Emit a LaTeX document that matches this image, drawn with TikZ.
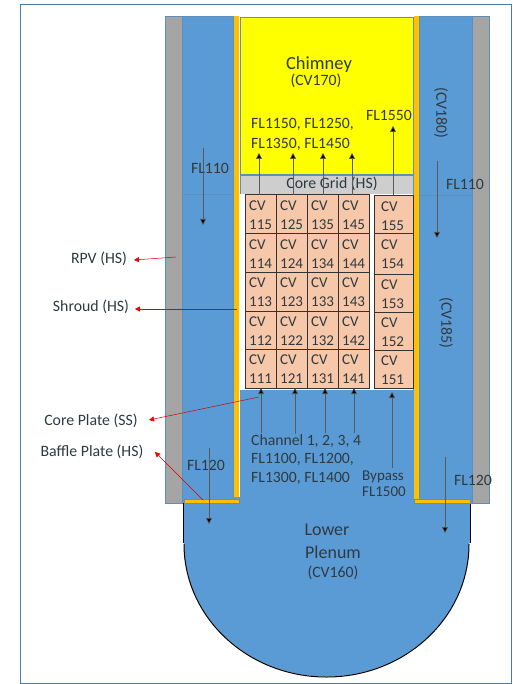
\documentclass[tikz,border=0pt]{standalone}
\usepackage{fontspec}
\setmainfont{Carlito}
\usetikzlibrary{arrows.meta}
\definecolor{bl}{HTML}{5B9BD5}
\definecolor{edgebl}{HTML}{5F8FB8}
\definecolor{gr}{HTML}{A5A5A5}
\definecolor{org}{HTML}{FFC000}
\definecolor{sal}{HTML}{F6C7A8}
\definecolor{txt}{HTML}{2F3A40}
\definecolor{chimy}{HTML}{FFFF00}
\tikzset{
 lab/.style={font=\fontsize{15.8}{18}\selectfont,text=txt,inner sep=0pt},
 cvt/.style={font=\fontsize{15}{19.5}\selectfont,text=txt,inner sep=0pt,align=left,anchor=north west},
 cell/.style={draw=black!80,line width=1pt,fill=sal,anchor=north west,inner sep=0pt,outer sep=0pt},
 flow/.style={draw=black!65,line width=.6pt,-{Triangle[length=6pt,width=6pt,fill=black]}},
 redarr/.style={draw=red!85!black,line width=.5pt,-{Triangle[length=5pt,width=5pt,fill=red]}},
 wall/.style={draw=edgebl,line width=.5pt}
}
\begin{document}
\begin{tikzpicture}[x=1pt,y=-1pt]
\useasboundingbox (0,0) rectangle (512,684);
\fill[white] (0,0) rectangle (512,684);
\draw[color=bl!80!black,line width=1pt] (20,4.5) -- (512,4.5) (20,4.5) -- (20,683);
\draw[color=bl!80!black,line width=1pt] (20,683) -- (512,683) (511,4.5) -- (511,683);
% outer walls
\fill[gr,wall] (165,16) rectangle (182,503);
\fill[gr,wall] (472,16) rectangle (489,503);
\fill[bl,wall] (182,16) rectangle (233,503);
\fill[bl,wall] (419,16) rectangle (472,503);
% lower plenum
\fill[bl] (240,380) rectangle (414,510);
\fill[bl] (183,497) -- (470,497) -- (470,543) -- (469,543) arc[start angle=0,end angle=180,x radius=142.5,y radius=133.5] -- (183,543) -- cycle;
\draw[black,line width=.9pt] (183,503) -- (183,543);
\draw[black,line width=.9pt] (470,503) -- (470,543);
\draw[black,line width=1pt] (469,544) arc[start angle=0,end angle=180,x radius=142.5,y radius=133];
% shroud and baffles
\fill[org] (233.5,16) rectangle (239,497);
\fill[org] (414,16) rectangle (419,499);
\fill[org,wall] (184,499) rectangle (239.5,503.5);
\fill[org,wall] (414,499) rectangle (470,503.5);
\draw[edgebl,line width=.5pt] (182,194) -- (233,194) (419,195) -- (472,195);
% chimney and grid
\fill[chimy,wall] (240,17) rectangle (413,174);
\fill[gr!55,wall] (240,175.5) rectangle (413,194);
\fill[white] (240,194.5) rectangle (413,390);
\fill[bl] (240,390) rectangle (412,400);
% CV cells
\foreach \c/\xa/\xb/\nn in {1/245/276/11,2/276/307/12,3/307/338/13,4/338/369/14}{
 \foreach \r/\ya/\yb/\u in {5/195/234/5,4/234/272/4,3/272/311/3,2/311/349/2,1/349/388/1}{
  \node[cell,minimum width={(\xb-\xa)*1pt},minimum height={(\yb-\ya)*1pt}] (box\c\r) at (\xa,\ya) {};
  \node[cvt] (cv\c\r) at (\xa+4,\ya+5.5) {CV\\\nn\u};
 }
}
\foreach \r/\ya/\yb/\u in {5/196/234/5,4/234/274/4,3/274/312/3,2/312/350/2,1/350/388/1}{
  \node[cell,minimum width=39pt,minimum height={(\yb-\ya)*1pt}] (box5\r) at (374,\ya) {};
  \node[cvt] (cv5\r) at (381,\ya+5.5) {CV\\15\u};
}
% text
\node[lab,font=\fontsize{18.5}{20}\selectfont] (chim) at (319,65) {Chimney};
\node[lab] (cv170) at (316,81) {(CV170)};
\node[lab,align=left,anchor=north west,font=\fontsize{15.7}{19.5}\selectfont] (flA) at (251,118.5) {FL1150, FL1250,\\FL1350, FL1450};
\node[lab,font=\fontsize{15.7}{18}\selectfont] (fl1550) at (389,115) {FL1550};
\node[lab,rotate=-90] (cv180) at (441,113) {(CV180)};
\node[lab,rotate=-90] (cv185) at (446,323) {(CV185)};
\node[lab] (core) at (332,184) {Core Grid (HS)};
\node[lab] (fl110a) at (210,168) {FL110};
\node[lab] (fl110b) at (465,184) {FL110};
\node[lab] (fl120a) at (206,465) {FL120};
\node[lab] (fl120b) at (473,480) {FL120};
\node[lab,align=left,anchor=north west,font=\fontsize{15.7}{18.5}\selectfont] (chan) at (251,434) {Channel 1, 2, 3, 4\\FL1100, FL1200,\\FL1300, FL1400};
\node[lab,align=left,anchor=north west,font=\fontsize{15}{15.5}\selectfont] (byp) at (362,471) {Bypass\\FL1500};
\node[lab,font=\fontsize{18}{20}\selectfont] (low) at (327,530) {Lower};
\node[lab,font=\fontsize{18}{20}\selectfont] (ple) at (333,552) {Plenum};
\node[lab] (cv160) at (333,573) {(CV160)};
\node[lab] (rpv) at (99,259) {RPV (HS)};
\node[lab] (shr) at (91,307) {Shroud (HS)};
\node[lab] (cp) at (91,421) {Core Plate (SS)};
\node[lab] (bp) at (92,452) {Baffle Plate (HS)};
% flow arrows
\foreach \n/\xa/\ya/\xb/\yb in {t1/259/195/259/153,t2/293/195/293/153,t3/323/195/323/153,t4/352/195/352/153,t5/393/195/393/126,
 la/203/148/203/225,ra/437/161/437/238,lb/209/448/209/524,rb/445/457/445/533,
 c1/261/433/261/388,c2/295/434/295/388,c3/325/433/325/388,c4/354/433/354/388,c5/392/468/392/392}{
 \coordinate (\n s) at (\xa,\ya);
 \coordinate (\n e) at (\xb,\yb);
 \draw[flow] (\n s) -- (\n e);
}
% red arrows
\coordinate (rs1) at (176,257); \coordinate (rs2) at (237,309);
\coordinate (rs3) at (259,397); \coordinate (rs4) at (203,500);
\coordinate (re1) at (134,260); \coordinate (re2) at (135,309);
\coordinate (re3) at (149,420); \coordinate (re4) at (155,452);
\draw[redarr] (rs1) -- (re1);
\draw[redarr] (rs2) -- (re2);
\draw[redarr] (rs3) -- (re3);
\draw[redarr] (rs4) -- (re4);
\end{tikzpicture}
\end{document}
